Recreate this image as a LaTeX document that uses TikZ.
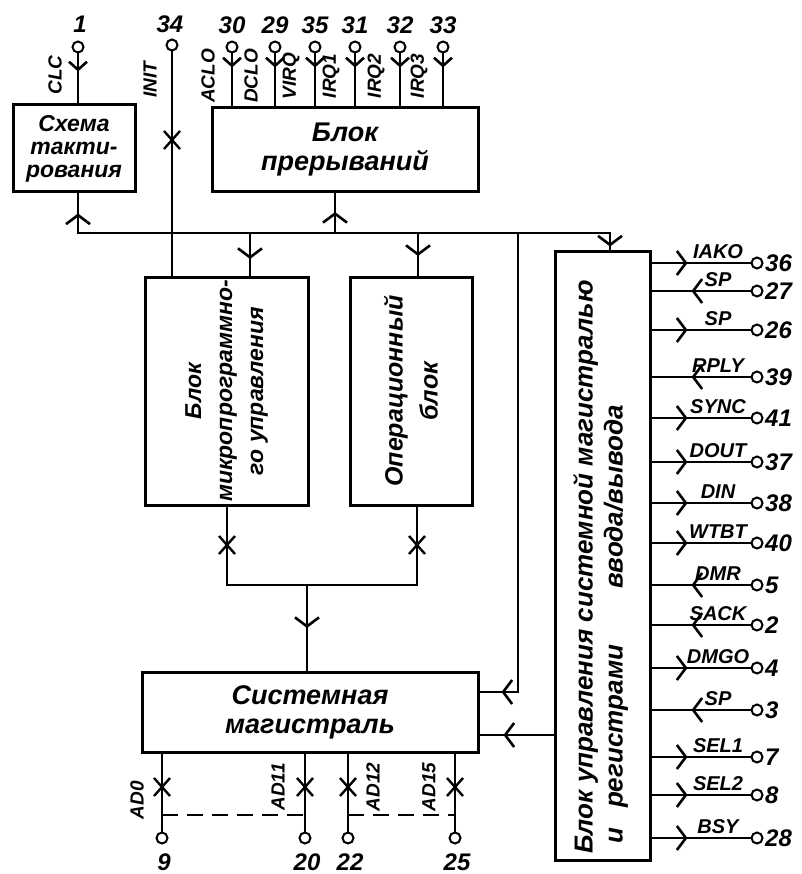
\documentclass[tikz,border=0pt]{standalone}
\usepackage{fontspec}
\setmainfont{Liberation Sans}
\usetikzlibrary{arrows.meta,decorations.markings}
\tikzset{
  chev/.tip={Straight Barb[length=9pt,width=24pt]},
  chevs/.tip={Straight Barb[length=8pt,width=18pt]},
  ln/.style={line width=2.6pt,line cap=rect},
  blk/.style={draw,line width=3pt,inner sep=0pt,rectangle},
  btxt/.style={font=\fontsize{27}{29}\selectfont\bfseries\itshape,align=center,inner sep=0pt},
  sig/.style={font=\fontsize{20}{21}\selectfont\bfseries\itshape,inner sep=0pt},
  tsig/.style={font=\fontsize{19}{20}\selectfont\bfseries\itshape,inner sep=0pt},
  num/.style={font=\fontsize{24}{24}\selectfont\bfseries\itshape,inner sep=0pt},
  pin/.style={circle,draw,line width=2pt,fill=white,minimum size=11pt,inner sep=0pt},
  flow/.style={postaction={decorate,decoration={markings,mark=at position #1 with {\arrow{chev}}}}},
  flows/.style={postaction={decorate,decoration={markings,mark=at position #1 with {\arrow{chevs}}}}},
  xmk/.pic={\draw[line width=2.4pt] (-8,-9)--(8,9) (-8,9)--(8,-9);}
}
\begin{document}
\begin{tikzpicture}[x=1pt,y=-1pt]
\useasboundingbox (0,0) rectangle (801,874);

% blocks
\node[blk,minimum width=122pt,minimum height=87pt] (clk) at (74,148.5) {};
\node[btxt,font=\fontsize{23}{23}\selectfont\bfseries\itshape] (clktxt) at (clk.center) {Схема\\такти-\\рования};
\node[blk,minimum width=266pt,minimum height=84pt] (irq) at (345,150) {};
\node[btxt] (irqtxt) at (irq.center) {Блок\\прерываний};
\node[blk,minimum width=163pt,minimum height=228pt] (micro) at (226.5,391) {};
\node[btxt,rotate=90,font=\fontsize{23}{31}\selectfont\bfseries\itshape] (mitxt) at (micro.center) {Блок\\микропрограммно-\\го управления};
\node[blk,minimum width=122pt,minimum height=228pt] (op) at (411,391) {};
\node[btxt,rotate=90,font=\fontsize{25}{35}\selectfont\bfseries\itshape] (optxt) at (op.center) {Операционный\\блок};
\node[blk,minimum width=336pt,minimum height=80pt] (sys) at (310,712) {};
\node[btxt] (systxt) at (sys.center) {Системная\\магистраль};
\node[blk,minimum width=95pt,minimum height=608pt] (ctl) at (602.5,556) {};
\node[btxt,rotate=90,align=left,anchor=north west,font=\fontsize{26}{30}\selectfont\bfseries\itshape] (ctltxt) at (573,854) {Блок управления системной магистралью\\\hspace*{10pt}и\hspace{20pt}регистрами\hspace{56pt}ввода/вывода};

% clock pin
\node[pin] (p1) at (78,47) {};
\node[num] (n1) at (80,24) {1};
\draw[ln,flows=18pt] (p1) -- (p1 |- clk.north);
\node[tsig,rotate=90] (lclc) at (55,75) {CLC};

% INIT pin
\node[pin] (p34) at (172,45) {};
\node[num] (n34) at (170,24) {34};
\draw[ln] (p34) -- (p34 |- micro.north);
\pic at (172,140) {xmk};
\node[tsig,rotate=90] (linit) at (150,80) {INIT};

% interrupt pins
\foreach \xx/\nm/\lab in {232/30/ACLO,275/29/DCLO,315/35/VIRQ,355/31/IRQ1,400/32/IRQ2,443/33/IRQ3}{
  \node[pin] (p\nm) at (\xx,47) {};
  \node[num] (n\nm) at (\xx,25) {\nm};
  \draw[ln,flows=14pt] (p\nm) -- (p\nm |- irq.north);
  \node[tsig,rotate=90] (l\nm) at (\xx-24,76) {\lab};
}

% common bus
\coordinate (b1) at (78,233);
\coordinate (b2) at (610,233);
\coordinate (bI) at (335,233);
\coordinate (bM) at (250,233);
\coordinate (bO) at (418,233);
\coordinate (bV) at (518,233);
\draw[ln,postaction={decorate,decoration={markings,
   mark=at position 20pt with {\arrowreversed{chev}},
   mark=at position -4pt with {\arrow{chev}}}}]
   (b1 |- clk.south) -- (b1) -- (b2) -- (b2 |- ctl.north);
\draw[ln,flow=21pt] (bI) -- (bI |- irq.south);
\draw[ln,flow=26pt] (bM) -- (bM |- micro.north);
\draw[ln,flow=23pt] (bO) -- (bO |- op.north);

% vertical line to system bus
\coordinate (k1) at (518,692);
\draw[ln,flow=-22pt] (bV) -- (k1) -- (k1 -| sys.east);
\coordinate (y735) at (0,735);
\draw[ln,flow=50pt] (ctl.west |- y735) -- (sys.east |- y735);

% merge of micro and op to system bus
\coordinate (mA) at (227,585);
\coordinate (mB) at (417,585);
\coordinate (mC) at (307,585);
\draw[ln] (micro.south -| mA) -- (mA) -- (mB) -- (op.south -| mB);
\pic at (227,545) {xmk};
\pic at (417,545) {xmk};
\draw[ln,flow=43pt] (mC) -- (mC |- sys.north);

% AD pins
\foreach \xx/\nm/\i in {162/9/0,305/20/11,348/22/12,455/25/15}{
  \node[pin] (ad\i) at (\xx,838) {};
  \draw[ln] (ad\i |- sys.south) -- (ad\i);
  \pic at (\xx,787) {xmk};
  \node[num] (nad\i) at (\xx+2,862) {\nm};
}
\coordinate (yd) at (0,815);
\draw[line width=2pt,dash pattern=on 16pt off 9pt] (ad0 |- yd) -- (ad11 |- yd);
\draw[line width=2pt,dash pattern=on 16pt off 9pt] (ad12 |- yd) -- (ad15 |- yd);
\node[tsig,rotate=90] (lad0) at (137,800) {AD0};
\node[tsig,rotate=90] (lad11) at (278,787) {AD11};
\node[tsig,rotate=90] (lad12) at (373,787) {AD12};
\node[tsig,rotate=90] (lad15) at (429,787) {AD15};

% right side signals: outputs
\foreach \lab/\nm/\yy in {IAKO/36/263,SP/26/330,SYNC/41/418,DOUT/37/462,DIN/38/503,WTBT/40/543,DMGO/4/668,SEL1/7/757,SEL2/8/795,BSY/28/838}{
  \node[pin] (r\nm) at (757,\yy) {};
  \draw[ln,flow=36pt] (ctl.east |- r\nm) -- (r\nm);
  \node[sig,anchor=south] (rl\nm) at (718,\yy-4) {\lab};
  \node[num,anchor=west] (rn\nm) at (765,\yy) {\nm};
}
% right side signals: inputs
\foreach \lab/\nm/\yy in {SP/27/291,RPLY/39/377,DMR/5/585,SACK/2/625,SP/3/710}{
  \node[pin] (r\nm) at (757,\yy) {};
  \draw[ln,flow=59pt] (r\nm) -- (ctl.east |- r\nm);
  \node[sig,anchor=south] (rl\nm) at (718,\yy-4) {\lab};
  \node[num,anchor=west] (rn\nm) at (765,\yy) {\nm};
}
\end{tikzpicture}
\end{document}
